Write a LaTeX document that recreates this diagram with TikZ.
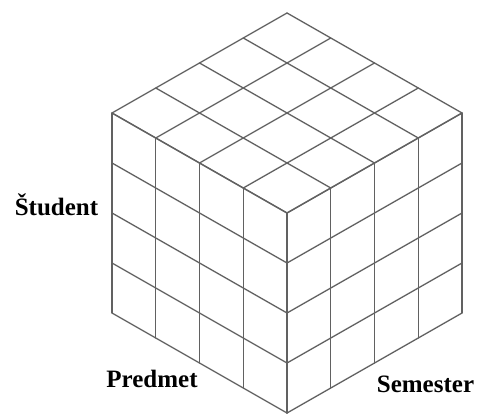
\documentclass[tikz,border=0pt]{standalone}
\usepackage{fontspec}
\setmainfont{Liberation Serif}

\begin{document}
\begin{tikzpicture}[
    x=1pt, y=1pt,
    grid/.style ={draw=black!62, line width=1.3pt, line cap=round, line join=round},
    axlab/.style={font=\bfseries\fontsize{25}{28}\selectfont, text=black, anchor=base, inner sep=0pt},
  ]

  % ---------------- page (478 x 415 px, 1px = 1pt) -------------------------
  \useasboundingbox (0,0) rectangle (478,415);

  % ---------------- geometry of the cube -----------------------------------
  \def\N{4}                                          % cells along every edge
  \def\A{43.75}                                      % horizontal step of a cell
  \def\B{25}                                         % rise of a cell along a slanted edge
  \def\H{50}                                         % height of a cell

  % ---------------- the 4 x 4 x 4 cube, origin at its lowest corner ---------
  \begin{scope}[shift={(287,2)}, x={(-\A pt,\B pt)}, y={(\A pt,\B pt)}, z={(0pt,\H pt)}]
    \foreach \k in {0,...,\N} {
      % left face  (Predmet)
      \draw[grid] (\k,0,0) -- (\k,0,\N);
      \draw[grid] (0,0,\k) -- (\N,0,\k);
      % right face (Semester)
      \draw[grid] (0,\k,0) -- (0,\k,\N);
      \draw[grid] (0,0,\k) -- (0,\N,\k);
      % top face
      \draw[grid] (\k,0,\N) -- (\k,\N,\N);
      \draw[grid] (0,\k,\N) -- (\N,\k,\N);
    }
  \end{scope}

  % ---------------- names of the three dimensions --------------------------
  \node[axlab] (student)  at (56.5,199) {Študent};
  \node[axlab] (predmet)  at (152,28)   {Predmet};
  \node[axlab] (semester) at (425.5,23) {Semester};

\end{tikzpicture}
\end{document}
